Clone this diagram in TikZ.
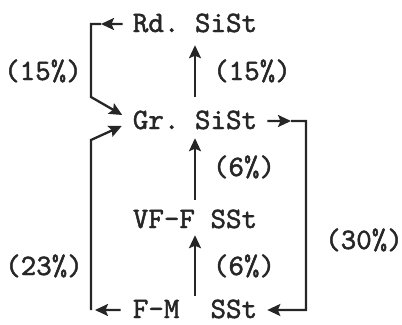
\documentclass[tikz,border=0pt]{standalone}
\usepackage{fontspec}
\newfontfamily\typewr{lmmono10-regular}[Extension=.otf, FakeBold=1.6]
\usetikzlibrary{arrows.meta,positioning}
\definecolor{ink}{RGB}{38,38,38}
\frenchspacing

\begin{document}
\begin{tikzpicture}[x=1bp, y=-1bp, >={Stealth[length=13bp,width=12bp,inset=2.5bp]},
    rock/.style={font=\typewr\fontsize{29.7}{33}\selectfont, text=ink, inner sep=0pt,
      text height=16bp, text depth=0pt, anchor=base},
    flow/.style={->, draw=ink, line width=2.3bp}]
  \useasboundingbox (0,0) rectangle (402,325);
  % rock types
  \node[rock] (rd) at (195,32) {Rd. SiSt};
  \node[rock] (gr) at (195,129) {Gr. SiSt};
  \node[rock] (vf) at (195,228) {VF-F SSt};
  \node[rock] (fm) at (195,318) {F-M\ \ SSt};
  % percentages
  \node[rock] (pRdGr) at (43,80) {(15\%)};
  \node[rock] (pGrRd) at (252,80) {(15\%)};
  \node[rock] (pVfGr) at (244,176) {(6\%)};
  \node[rock] (pFmVf) at (244,275) {(6\%)};
  \node[rock] (pGrFm) at (364,249) {(30\%)};
  \node[rock] (pFmGr) at (44,275) {(23\%)};
  % corners
  \coordinate (tlh) at (101,24);
  \coordinate (tl) at (91,24);
  \coordinate (tlb) at (91,97);
  \coordinate (trh) at (291,121);
  \coordinate (tr) at (306,121);
  \coordinate (br) at (306,310);
  \coordinate (blh) at (95,310);
  \coordinate (bl) at (91,310);
  \coordinate (blt) at (91,140);
  % up the column
  \draw[flow, shorten <=16bp, shorten >=13bp] (gr) -- (rd);
  \draw[flow, shorten <=12bp, shorten >=9bp] (vf) -- (gr);
  \draw[flow, shorten <=6bp, shorten >=7bp] (fm) -- (vf);
  % loops
  \draw[flow, shorten <=10bp] (rd.west) -- (tlh);
  \draw[flow, shorten >=12bp] (tlh) -- (tl) -- (tlb) -- (gr.west);
  \draw[flow, shorten <=10bp] (gr.east) -- (trh);
  \draw[flow, shorten >=10bp] (trh) -- (tr) -- (br) -- (fm.east);
  \draw[flow, shorten <=12bp] (fm.west) -- (blh);
  \draw[flow, shorten >=12bp] (bl) -- (blt) -- (gr.west);
\end{tikzpicture}
\end{document}
